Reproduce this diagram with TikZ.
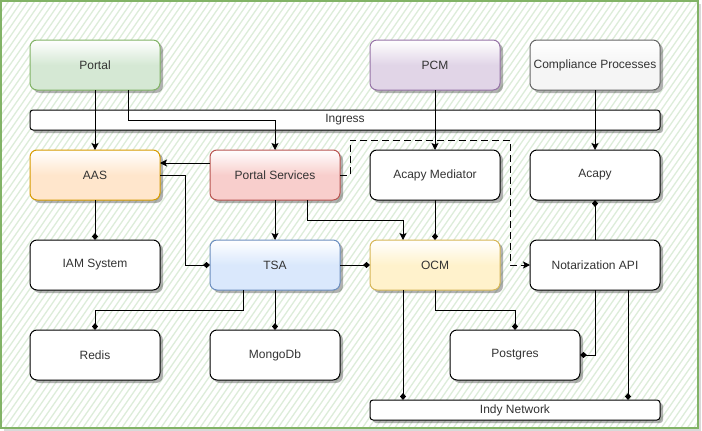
\documentclass[tikz,border=0pt]{standalone}
\usepackage{fontspec}
\setmainfont{Liberation Sans}
\usetikzlibrary{arrows.meta,shadows}
\definecolor{gF}{HTML}{D5E8D4}\definecolor{gD}{HTML}{82B366}
\definecolor{pF}{HTML}{E1D5E7}\definecolor{pD}{HTML}{9673A6}
\definecolor{cF}{HTML}{F5F5F5}\definecolor{cD}{HTML}{666666}
\definecolor{oF}{HTML}{FFE6CC}\definecolor{oD}{HTML}{D79B00}
\definecolor{rF}{HTML}{F8CECC}\definecolor{rD}{HTML}{B85450}
\definecolor{bF}{HTML}{DAE8FC}\definecolor{bD}{HTML}{6C8EBF}
\definecolor{yF}{HTML}{FFF2CC}\definecolor{yD}{HTML}{D6B656}
\definecolor{txt}{HTML}{333333}
\definecolor{hatchc}{HTML}{DDEDDA}
\begin{document}
\begin{tikzpicture}[x=1pt,y=-1pt,
  base/.style={rounded corners=7pt, inner sep=0pt, outer sep=0pt, line width=1pt,
    font=\fontsize{12}{14}\selectfont, text=txt,
    drop shadow={shadow xshift=3pt, shadow yshift=-3pt, opacity=0.3, fill=black}},
  box/.style={base, minimum width=130pt, minimum height=50pt},
  wbox/.style={box, draw=black, fill=white},
  cbox/.style 2 args={box, draw=#2, top color=white, bottom color=#1, middle color=#1},
  bar/.style={base, rounded corners=3pt, minimum height=20pt, draw=black, fill=white},
  conn/.style={line width=1pt, black},
  arr/.style={conn, -{Stealth[length=7pt,width=7pt,inset=1.5pt]}},
  dia/.style={conn, -{Diamond[length=7pt,width=6pt]}}
]
\useasboundingbox (0,0) rectangle (702,431);
% background frame
\fill[black, opacity=0.15] (4,4) rectangle (701,431);
\fill[white] (1,1) rectangle (698,428);
\begin{scope}
  \clip (1,1) rectangle (698,428);
  \foreach \i in {-310,-303.5,...,710} {
    \draw[hatchc, line width=1.3pt] (\i,432) -- (\i+300,0);
  }
\end{scope}
\draw[gD, line width=1.5pt] (1,1) rectangle (698,428);

% nodes
\node[cbox={gF}{gD}] (portal) at (95,65) {Portal};
\node[cbox={pF}{pD}] (pcm) at (435,65) {PCM};
\node[cbox={cF}{cD}] (cp) at (595,65) {Compliance Processes};
\node[bar, minimum width=630pt] (ingress) at (345,120) {Ingress};
\node[cbox={oF}{oD}] (aas) at (95,175) {AAS};
\node[cbox={rF}{rD}] (ps) at (275,175) {Portal Services};
\node[wbox] (am) at (435,175) {Acapy Mediator};
\node[wbox] (acapy) at (595,175) {Acapy};
\node[wbox] (iam) at (95,265) {IAM System};
\node[cbox={bF}{bD}] (tsa) at (275,265) {TSA};
\node[cbox={yF}{yD}] (ocm) at (435,265) {OCM};
\node[wbox] (na) at (595,265) {Notarization API};
\node[wbox] (redis) at (95,355) {Redis};
\node[wbox] (mongo) at (275,355) {MongoDb};
\node[wbox] (pg) at (515,355) {Postgres};
\node[bar, minimum width=290pt] (indy) at (515,410) {Indy Network};

% helper coordinates
\coordinate (p2) at ([xshift=33pt]portal.south);
\coordinate (psl) at ([yshift=12pt]ps.west);
\coordinate (ps2) at ([xshift=32pt]ps.south);
\coordinate (tsa2) at ([xshift=-32pt]tsa.south);
\coordinate (ocm2) at ([xshift=-32pt]ocm.south);
\coordinate (na2) at ([xshift=33pt]na.south);

% connectors
\draw[arr] (portal.south) -- (aas.north);
\draw[arr] (p2) -- (p2 |- ingress.center) -| (ps.north);
\draw[arr] (pcm.south) -- (am.north);
\draw[arr] (cp.south) -- (acapy.north);
\draw[arr] (psl) -- (psl -| aas.east);
\draw[dia] (aas.east) -- ++(25,0) |- (tsa.west);
\draw[dia] (aas.south) -- (iam.north);
\draw[arr] (ps.south) -- (tsa.north);
\draw[arr] (ps2) -- ++(0,20) -| ([xshift=-32pt]ocm.north);
\draw[conn, dash pattern=on 7pt off 4pt, -{Stealth[length=7pt,width=7pt,inset=1.5pt]}]
  (ps.east) -- ++(10,0) -- ++(0,-35) -- ++(160,0) |- (na.west);
\draw[dia] (am.south) -- (ocm.north);
\draw[dia] (tsa.east) -- (ocm.west);
\draw[dia] (na.north) -- (acapy.south);
\draw[dia] (tsa2) -- ++(0,20) -| (redis.north);
\draw[dia] (tsa.south) -- (mongo.north);
\draw[dia] (ocm.south) -- ++(0,20) -| (pg.north);
\draw[dia] (na.south) |- (pg.east);
\draw[dia] (ocm2) -- (ocm2 |- indy.north);
\draw[dia] (na2) -- (na2 |- indy.north);
\end{tikzpicture}
\end{document}
